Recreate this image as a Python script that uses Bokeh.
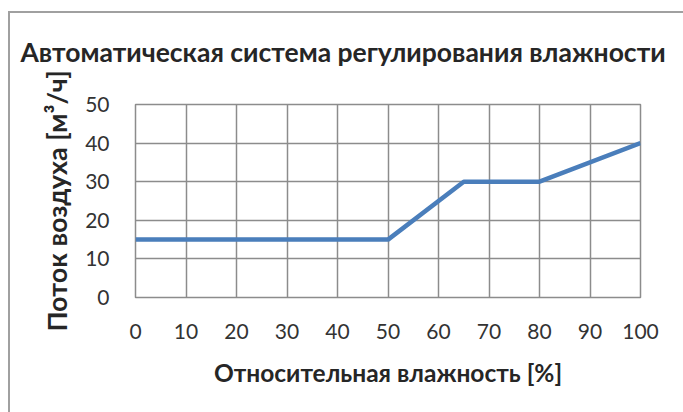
from bokeh.plotting import figure
from bokeh.models import Range1d, FixedTicker, Title
from bokeh.embed import file_html
from bokeh.resources import INLINE

# data
humidity = [0, 50, 65, 80, 100]
airflow = [15, 15, 30, 30, 40]
x_ticks = [0, 10, 20, 30, 40, 50, 60, 70, 80, 90, 100]
y_ticks = [0, 10, 20, 30, 40, 50]
title_text = "Автоматическая система регулирования влажности"
x_label = "Относительная влажность [%]"
y_label = "Поток воздуха [м³/ч]"

FONT = "Lato"
TXT = "#262626"
GRID = "#8c8c8c"

p = figure(width=683, height=412, output_backend="svg", toolbar_location=None,
           x_range=Range1d(0, 100), y_range=Range1d(0, 50),
           min_border_left=135, min_border_right=43, min_border_top=104, min_border_bottom=115)
p.border_fill_alpha = 0
p.styles = {"box-shadow": "inset 8px 11px 0 0 #ffffff, inset 10px 13px 0 0 #a0a0a0"}

t = Title(text=title_text, align="left", offset=-115, standoff=70, vertical_align="top",
          text_font=FONT, text_font_size="26.5px", text_font_style="bold", text_color=TXT)
p.add_layout(t, "above")

p.line(humidity, airflow, line_color="#4a7ebb", line_width=4.5)

for ax, ticks in ((p.xaxis[0], x_ticks), (p.yaxis[0], y_ticks)):
    ax.ticker = FixedTicker(ticks=ticks)
    ax.axis_line_color = None
    ax.major_tick_line_color = None
    ax.minor_tick_line_color = None
    ax.major_tick_out = 0
    ax.major_tick_in = 0
    ax.major_label_text_font = FONT
    ax.major_label_text_font_size = "21px"
    ax.major_label_text_color = "#333333"
    ax.axis_label_text_font = FONT
    ax.axis_label_text_font_style = "bold"
    ax.axis_label_text_color = TXT

p.xaxis.axis_label = x_label
p.yaxis.axis_label = y_label
p.xaxis.axis_label_text_font_size = "24.5px"
p.yaxis.axis_label_text_font_size = "27px"
p.xaxis.major_label_standoff = 26
p.yaxis.major_label_standoff = 26
p.xaxis.axis_label_standoff = 16
p.yaxis.axis_label_standoff = 9

p.xgrid.ticker = FixedTicker(ticks=x_ticks)
p.ygrid.ticker = FixedTicker(ticks=y_ticks)
p.grid.grid_line_color = GRID
p.grid.grid_line_width = 1.5
p.outline_line_color = GRID
p.outline_line_width = 1.5

open("out.html", "w").write(file_html(p, INLINE))
